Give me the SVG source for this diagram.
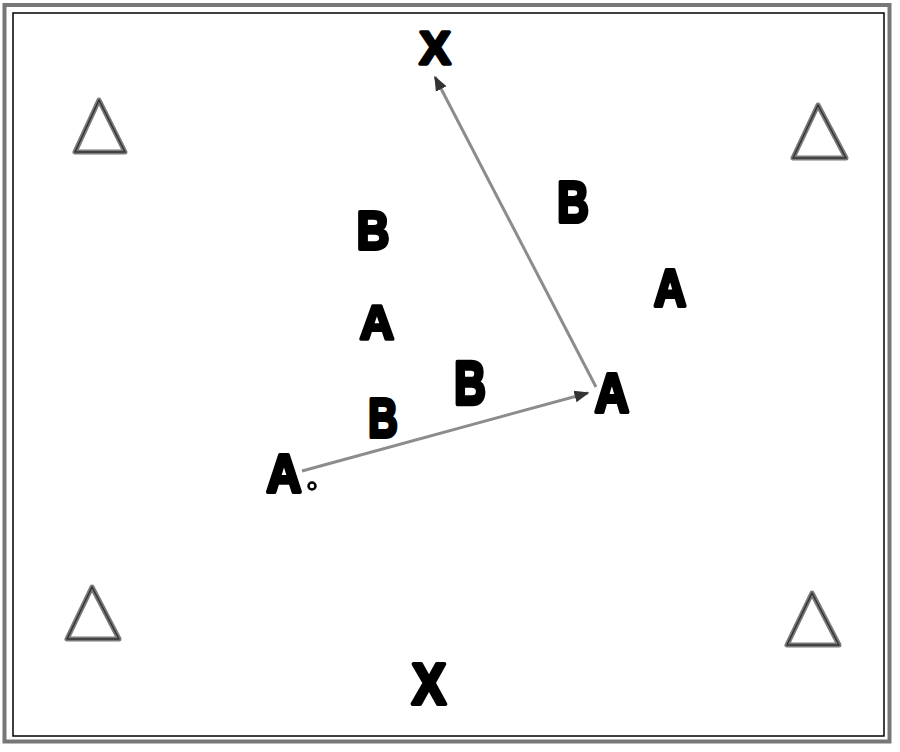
<svg xmlns="http://www.w3.org/2000/svg" width="900" height="752" viewBox="0 0 900 752">
<defs>
<style>
.lbl{font-family:"Liberation Sans",Arial,sans-serif;font-weight:bold;font-size:48px;fill:#000;stroke:#000;stroke-width:3.5;stroke-linejoin:round;text-anchor:middle}
.tri{fill:none;stroke:#7a7a7a;stroke-width:5;stroke-linejoin:round}
.tri2{fill:none;stroke:#333;stroke-width:1.5;stroke-linejoin:round}
.conn{stroke:#8c8c8c;stroke-width:3;fill:none}
</style>
<marker id="ah" viewBox="0 0 10 10" refX="9" refY="5" markerWidth="5" markerHeight="5" orient="auto" markerUnits="strokeWidth">
<path d="M0,1 L10,5 L0,9 Z" fill="#333"/>
</marker>
</defs>
<rect x="0" y="0" width="900" height="752" fill="#fff"/>
<g id="frame">
<rect x="4.5" y="5" width="885" height="736.5" fill="none" stroke="#777" stroke-width="4"/>
<rect x="13" y="13" width="871" height="723" fill="none" stroke="#000" stroke-width="1.5"/>
</g>
<g id="cone-tl"><polygon class="tri" points="99,100 75,152 125,152"/><polygon class="tri2" points="99,100 75,152 125,152"/></g>
<g id="cone-tr"><polygon class="tri" points="818,105 793,158 846,158"/><polygon class="tri2" points="818,105 793,158 846,158"/></g>
<g id="cone-bl"><polygon class="tri" points="92,587 67,639 119,639"/><polygon class="tri2" points="92,587 67,639 119,639"/></g>
<g id="cone-br"><polygon class="tri" points="812,593 787,645 839,645"/><polygon class="tri2" points="812,593 787,645 839,645"/></g>
<g id="connectors">
<line class="conn" x1="302" y1="471" x2="588" y2="393" marker-end="url(#ah)"/>
<line class="conn" x1="596" y1="387" x2="435" y2="77" marker-end="url(#ah)"/>
</g>
<g id="x-top"><text class="lbl" transform="translate(435,64) scale(0.97,0.95)">X</text></g>
<g id="b-tl"><text class="lbl" transform="translate(373,249) scale(0.94,1.13)">B</text></g>
<g id="b-tr"><text class="lbl" transform="translate(573,222) scale(0.91,1.2)">B</text></g>
<g id="a-r"><text class="lbl" transform="translate(670,306) scale(0.93,1.08)">A</text></g>
<g id="a-mid"><text class="lbl" transform="translate(377,339) scale(0.99,1.02)">A</text></g>
<g id="b-mid"><text class="lbl" transform="translate(470,404) scale(0.91,1.26)">B</text></g>
<g id="a-rm"><text class="lbl" transform="translate(612,412) scale(0.99,1.16)">A</text></g>
<g id="b-low"><text class="lbl" transform="translate(383,437) scale(0.85,1.16)">B</text></g>
<g id="a-bot"><text class="lbl" transform="translate(284,492) scale(1.01,1.1)">A</text><circle cx="312" cy="486" r="3.5" fill="#fff" stroke="#000" stroke-width="2.5"/></g>
<g id="x-bot"><text class="lbl" transform="translate(429,704) scale(1.06,1.2)">X</text></g>
</svg>
